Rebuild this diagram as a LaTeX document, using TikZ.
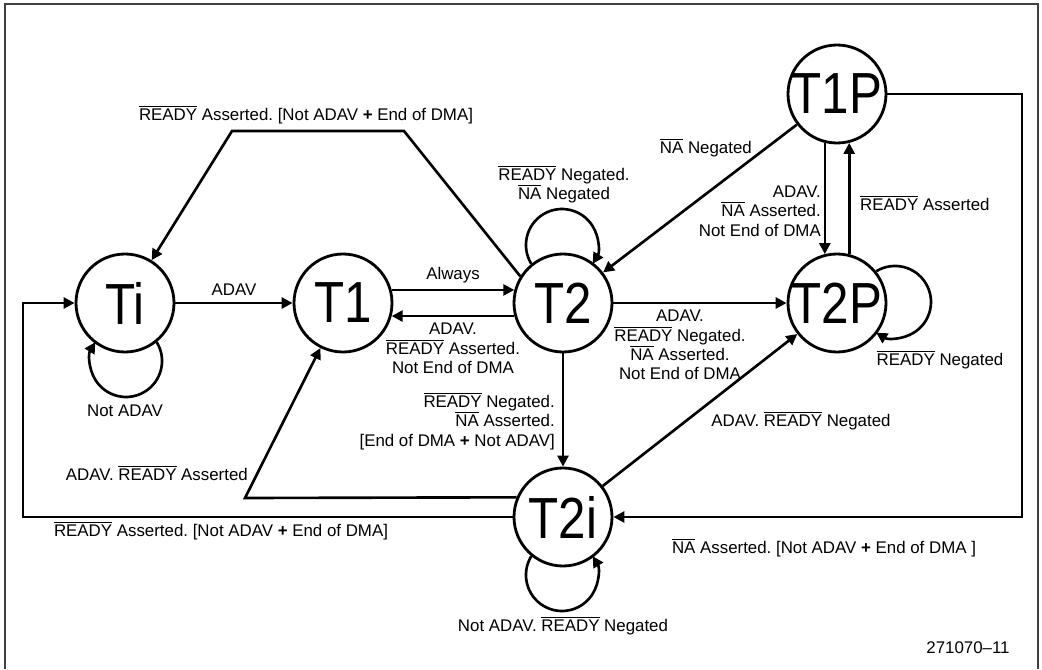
\documentclass[tikz,border=0pt]{standalone}
\usepackage{fontspec}
\setmainfont{Liberation Sans}
\usepackage{graphicx}
\usepackage{tikz}
\usetikzlibrary{arrows.meta,
    positioning}

\newcommand{\ovl}[1]{$\overline{\mbox{#1}}$}
\newcommand{\bplus}{\textbf{+}}
\newcommand{\stname}[1]{\makebox[0pt]{\scalebox{0.85}[1]{#1}}}
\frenchspacing

\begin{document}
\begin{tikzpicture}[
    font=\fontsize{9.6}{11}\selectfont,
    >={Triangle[length=0.22cm,width=0.22cm]},
    state/.style={circle, draw, line width=1.6pt, minimum size=1.96cm,
        inner sep=0pt, font=\fontsize{33}{33}\selectfont},
    link/.style={->, line width=1.5pt},
    lbl/.style={align=center}]
                  \useasboundingbox (0,0) rectangle (20.84,13.38);
                  \draw[black!75, line width=0.7pt] (0.10,0) -- (0.10,13.30) -- (20.76,13.30) -- (20.76,0);
                  \node[state] (Ti) at (2.50,7.32) {\stname{Ti}};
                  \node[state] (T1) at (6.86,7.32) {\stname{T1}};
                  \node[state] (T2) at (11.26,7.32) {\stname{T2}};
                  \node[state] (T1P) at (16.74,11.50) {\stname{T1P}};
                  \node[state] (T2P) at (16.74,7.32) {\stname{T2P}};
                  \node[state] (T2i) at (11.26,3.04) {\stname{T2i}};
                  \coordinate (tr) at (8.08,10.76);
                  \coordinate (tl) at (4.64,10.76);
                  \coordinate (rb) at (20.44,3.04);
                  \coordinate (kT1) at (4.90,3.42);
                  \coordinate (kTi) at (0.46,3.04);
                  \draw[link] (Ti) -- node[above] (lAdav) {ADAV} (T1);
                  \draw[link] (T1.15) -- node[above] (lAlways) {Always} (T2.165);
                  \draw[link] (T2.195) -- node[below, lbl] (lBack) {ADAV.\\\ovl{READY} Asserted.\\Not End of DMA} (T1.345);
                  \draw[link] (T2.148) -- (tr) -- (tl) -- (Ti);
                  \node (lTop) at (6.12,11.08) {\ovl{READY} Asserted. [Not ADAV \bplus{} End of DMA]};
                  \draw[link] (T1P) -- (T2);
                  \node[anchor=east] (lNaNeg) at (15.16,10.42) {\ovl{NA} Negated};
                  \draw[link] (T1P.256) -- (T2P.104);
                  \node[anchor=east, align=right] (lDown) at (16.54,9.16) {ADAV.\\\ovl{NA} Asserted.\\Not End of DMA};
                  \draw[link] (T2P.76) -- (T1P.284);
                  \node[anchor=west] (lUp) at (17.08,9.32) {\ovl{READY} Asserted};
                  \draw[link] (T2) -- (T2P);
                  \node[lbl] (lFwd) at (13.60,6.48) {ADAV.\\\ovl{READY} Negated.\\\ovl{NA} Asserted.\\Not End of DMA};
                  \draw[link] (T2) -- (T2i);
                  \node[anchor=east, align=right] (lDrop) at (11.22,4.96) {\ovl{READY} Negated.\\\ovl{NA} Asserted.\\{[}End of DMA \bplus{} Not ADAV]};
                  \draw[link] (T2i) -- (T2P);
                  \node (lSide) at (16.02,4.96) {ADAV. \ovl{READY} Negated};
                  \draw[link] (T1P.east) -| (rb) -- (T2i);
                  \node (lRight) at (16.48,2.42) {\ovl{NA} Asserted. [Not ADAV \bplus{} End of DMA ]};
                  \draw[link] (T2i.157) -- (kT1) -- (T1);
                  \node[anchor=east] (lUpT1) at (5.08,3.92) {ADAV. \ovl{READY} Asserted};
                  \draw[link] (T2i) -- (kTi) |- (Ti);
                  \node (lLeft) at (4.42,2.76) {\ovl{READY} Asserted. [Not ADAV \bplus{} End of DMA]};
                  \draw[link] (T2.129) arc[start angle=211.5, end angle=-31.5, radius=0.72cm];
                  \node[lbl] (lLoopT2) at (11.28,9.70) {\ovl{READY} Negated.\\\ovl{NA} Negated};
                  \draw[link] (Ti.-51) arc[start angle=31.5, end angle=-211.5, radius=0.72cm];
                  \node (lLoopTi) at (2.50,5.16) {Not ADAV};
                  \draw[link] (T2P.39) arc[start angle=121.5, end angle=-121.5, radius=0.72cm];
                  \node (lLoopT2P) at (18.80,6.18) {\ovl{READY} Negated};
                  \draw[link] (T2i.-129) arc[start angle=-211.5, end angle=31.5, radius=0.72cm];
                  \node (lLoopT2i) at (11.26,0.86) {Not ADAV. \ovl{READY} Negated};
                  \node (code) at (19.36,0.42) {271070--11};
              \end{tikzpicture}
\end{document}
